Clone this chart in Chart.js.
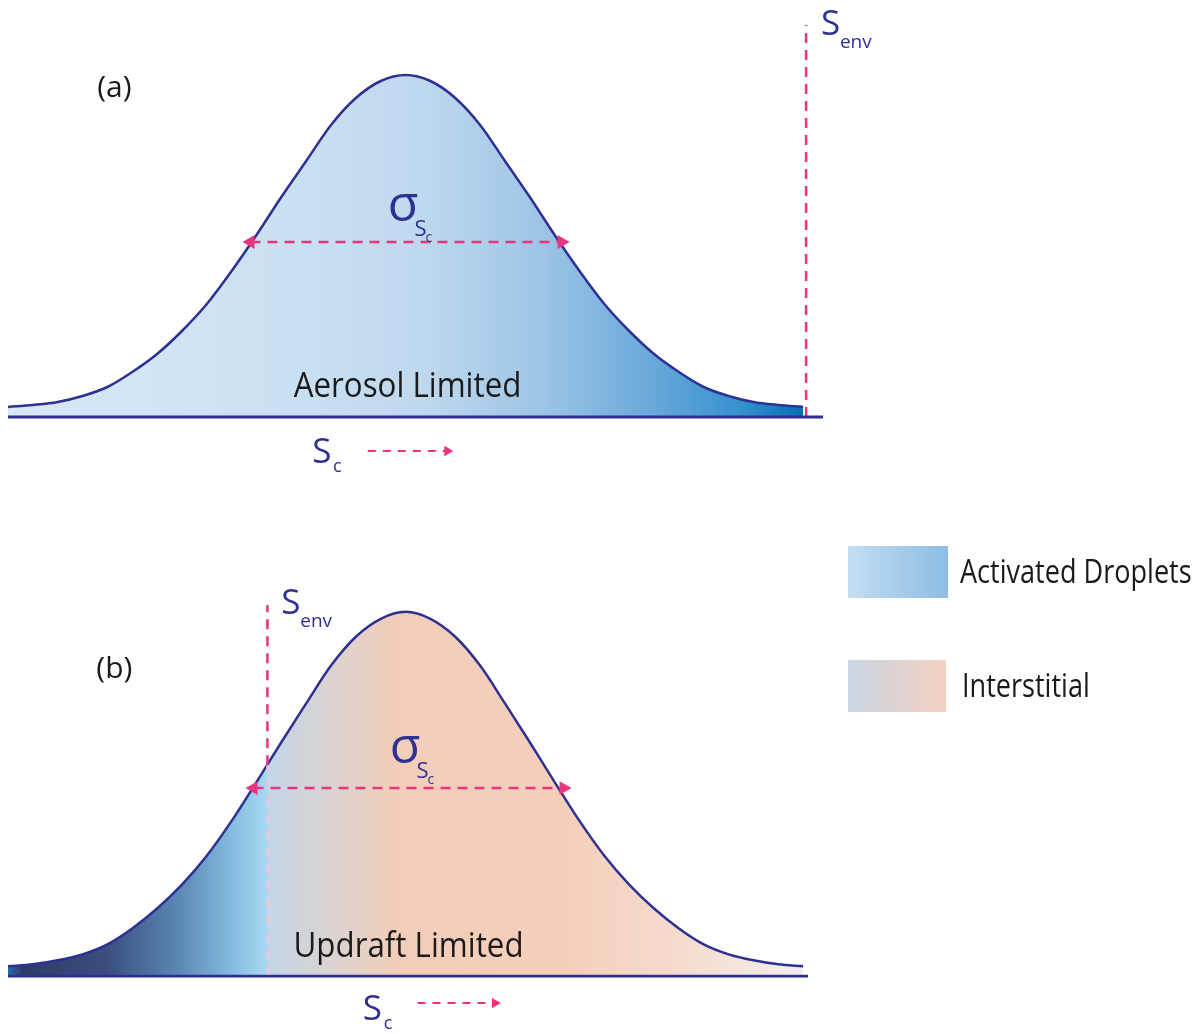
<!DOCTYPE html>
<html>
<head>
<meta charset="utf-8">
<script src="https://cdn.jsdelivr.net/npm/chart.js@4"></script>
<style>
  body { margin: 0; background: #fff; }
  #wrap { position: relative; width: 1196px; height: 1034px; overflow: hidden; }
  canvas { position: absolute; left: 0; top: 0; }
  .key { position: absolute; width: 100px; height: 52px; }
  .keyText { position: absolute; font-family: "Open Sans", sans-serif; font-size: 33px; color: #1a1a1a;
             transform-origin: left center; transform: scaleX(0.82); white-space: nowrap; line-height: 40px; }
</style>
</head>
<body>
<div id="wrap">
  <canvas id="chartA" width="1196" height="1034"></canvas>
  <canvas id="chartB" width="1196" height="1034"></canvas>
  <div class="key" style="left:848px; top:546px; background:linear-gradient(to right,#c3def2,#8ebde4);"></div>
  <div class="keyText" style="left:960px; top:551px;">Activated Droplets</div>
  <div class="key" style="left:848px; top:660px; width:98px; background:linear-gradient(to right,#cbd7e6,#dcd3d3 45%,#f4d2c2);"></div>
  <div class="keyText" style="left:962px; top:665px;">Interstitial</div>
</div>
<script>
// supersaturation axis (arbitrary units, peak at 400)
const sc = [0, 25, 50, 75, 100, 125, 150, 175, 200, 225, 250, 275, 300, 325, 350, 375, 400,
            425, 450, 475, 500, 525, 550, 575, 600, 625, 650, 675, 700, 725, 750, 775, 800];
// number of particles, panel (a)
const nAerosol = [10, 12, 15, 21, 30, 45, 63, 86, 113, 146, 182, 220, 256, 292, 319, 336, 342,
                  336, 319, 292, 256, 220, 182, 146, 113, 86, 63, 45, 30, 21, 15, 12, 10];
// number of particles, panel (b)
const nUpdraft = [10, 12, 16, 22, 32, 48, 68, 92, 121, 156, 195, 235, 274, 312, 341, 359, 366,
                  359, 341, 312, 274, 235, 195, 156, 121, 92, 68, 48, 32, 22, 16, 12, 10];

const sEnvA = 803, sEnvTopA = 392;
const sEnvB = 261, sEnvCrossB = 212, sEnvTopB = 373;
const sigmaA = [244, 557], sigmaHA = 175;
const sigmaB = [247, 559], sigmaHB = 189;

const navy = '#2e3192';
const pink = '#e8357e';
const FONT = '"Open Sans", sans-serif';

function pts(xs, ys) { return xs.map((x, i) => ({ x: x, y: ys[i] })); }

function gradFill(stops) {
  return function (context) {
    const chart = context.chart;
    if (!chart.chartArea) return null;
    const xs = chart.scales.x;
    const x0 = xs.getPixelForValue(0), x1 = xs.getPixelForValue(800);
    const g = chart.ctx.createLinearGradient(x0, 0, x1, 0);
    stops.forEach(s => g.addColorStop(Math.min(1, Math.max(0, s[0] / 800)), s[1]));
    return g;
  };
}

const stopsA = [[0, '#d8e9f6'], [300, '#c9e0f2'], [420, '#bed8ee'], [520, '#a3c8e7'],
                [560, '#93bfe3'], [650, '#68a8da'], [740, '#3390cd'], [800, '#0a6db6']];
const stopsB = [[0, '#2a6aa8'], [14, '#2c3a68'], [100, '#3a4f80'], [170, '#5a86b4'],
                [220, '#7fb6db'], [258, '#a5d8f1'], [261, '#a5d8f1'], [262, '#c3d5e7'],
                [330, '#ddd3d0'], [390, '#f2cdb9'], [560, '#f5cfbb'], [680, '#f5dccf'], [800, '#f4eeee']];

function arrowSet(a, b, h, width, dash, heads, rots) {
  return {
    data: [{ x: a, y: h }, { x: b, y: h }],
    borderColor: pink, borderWidth: width, borderDash: dash,
    pointStyle: 'triangle', pointRadius: heads, pointRotation: rots,
    pointBackgroundColor: pink, pointBorderColor: pink, pointBorderWidth: 0,
    fill: false, order: 0
  };
}

function drawSub(ctx, xs, ys, x, y, main, mainSize, subs) {
  ctx.fillStyle = navy;
  ctx.textAlign = 'left';
  ctx.font = mainSize + 'px ' + FONT;
  ctx.fillText(main, xs.getPixelForValue(x), ys.getPixelForValue(y));
  subs.forEach(s => {
    ctx.font = s[3] + 'px ' + FONT;
    ctx.fillText(s[0], xs.getPixelForValue(s[1]), ys.getPixelForValue(s[2]));
  });
}

function labelPlugin(cfg) {
  return {
    id: 'labels',
    afterDatasetsDraw(chart) {
      const ctx = chart.ctx, xs = chart.scales.x, ys = chart.scales.y;
      ctx.save();
      ctx.textBaseline = 'alphabetic';
      ctx.fillStyle = '#1a1a1a';
      ctx.textAlign = 'center';
      ctx.font = '30px ' + FONT;
      ctx.fillText(cfg.panel[0], xs.getPixelForValue(cfg.panel[1]), ys.getPixelForValue(cfg.panel[2]));
      // regime name, slightly condensed
      ctx.save();
      const cx = xs.getPixelForValue(cfg.regime[1]), cy = ys.getPixelForValue(cfg.regime[2]);
      ctx.translate(cx, cy);
      ctx.scale(0.92, 1);
      ctx.font = '34px ' + FONT;
      ctx.fillText(cfg.regime[0], 0, 0);
      ctx.restore();
      drawSub(ctx, xs, ys, cfg.sigma[0], cfg.sigma[1], 'σ', 50,
              [['S', cfg.sigma[0] + 27, cfg.sigma[1] - 15, 22], ['c', cfg.sigma[0] + 38, cfg.sigma[1] - 21, 14]]);
      drawSub(ctx, xs, ys, cfg.env[0], cfg.env[1], 'S', 35,
              [['env', cfg.env[0] + 19, cfg.env[1] - 13, 19]]);
      drawSub(ctx, xs, ys, cfg.sc[0], cfg.sc[1], 'S', 35,
              [['c', cfg.sc[0] + 21, cfg.sc[1] - 9, 18]]);
      ctx.restore();
    }
  };
}

function baseOptions(yMin, padTop, padBottom) {
  return {
    responsive: false,
    animation: false,
    events: [],
    layout: { padding: { left: 3, right: 373, top: padTop, bottom: padBottom } },
    scales: {
      x: { type: 'linear', min: 0, max: 820, display: false },
      y: { type: 'linear', min: yMin, max: 400, display: false }
    },
    elements: { point: { radius: 0 } },
    plugins: { legend: { display: false }, tooltip: { enabled: false } }
  };
}

window.onload = function () {
  // the filled curve is drawn first (highest order), the marks go on top of it
  const curveStyle = {
    borderColor: navy, borderWidth: 2.5, fill: 'origin',
    cubicInterpolationMode: 'monotone', pointRadius: 0, order: 10
  };

  new Chart(document.getElementById('chartA').getContext('2d'), {
    type: 'line',
    data: {
      datasets: [
        Object.assign({ data: pts(sc, nAerosol), backgroundColor: gradFill(stopsA) }, curveStyle),
        { data: [{ x: 0, y: 0 }, { x: 820, y: 0 }], borderColor: navy, borderWidth: 2.8, fill: false, order: 1 },
        { data: [{ x: sEnvA, y: 0 }, { x: sEnvA, y: sEnvTopA }], borderColor: pink, borderWidth: 2.5,
          borderDash: [10, 7], fill: false, order: 2 },
        arrowSet(sigmaA[0], sigmaA[1], sigmaHA, 2.5, [10, 7], 8, [-90, 90]),
        arrowSet(362, 442, -34, 2, [8, 7], [0, 6], [0, 90])
      ]
    },
    options: baseOptions(-100, 17, 517),
    plugins: [labelPlugin({
      panel: ['(a)', 107, 320],
      regime: ['Aerosol Limited', 402, 20],
      sigma: [382, 196],
      env: [818, 382],
      sc: [306, -46]
    })]
  });

  new Chart(document.getElementById('chartB').getContext('2d'), {
    type: 'line',
    data: {
      datasets: [
        Object.assign({ data: pts(sc, nUpdraft), backgroundColor: gradFill(stopsB) }, curveStyle),
        { data: [{ x: 0, y: 0 }, { x: 805, y: 0 }], borderColor: navy, borderWidth: 2.8, fill: false, order: 1 },
        { data: [{ x: sEnvB, y: sEnvCrossB }, { x: sEnvB, y: sEnvTopB }], borderColor: pink, borderWidth: 2.5,
          borderDash: [10, 7], fill: false, order: 2 },
        { data: [{ x: sEnvB, y: 0 }, { x: sEnvB, y: sEnvCrossB }], borderColor: '#ecc3dc', borderWidth: 2.5,
          borderDash: [10, 7], fill: false, order: 2 },
        arrowSet(sigmaB[0], sigmaB[1], sigmaHB, 2.5, [10, 7], 8, [-90, 90]),
        arrowSet(412, 490, -27, 2, [8, 7], [0, 6], [0, 90])
      ]
    },
    options: baseOptions(-50, 578, 6),
    plugins: [labelPlugin({
      panel: ['(b)', 107, 300],
      regime: ['Updraft Limited', 403, 19],
      sigma: [384, 214],
      env: [275, 364],
      sc: [357, -44]
    })]
  });
};
</script>
</body>
</html>
